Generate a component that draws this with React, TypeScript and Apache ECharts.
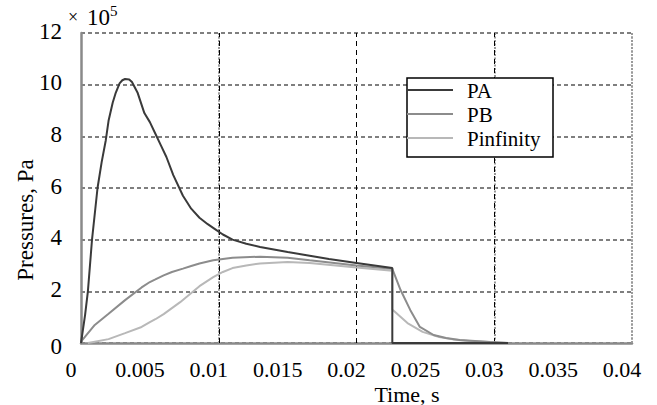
import React, { useEffect, useRef } from "react";
import * as echarts from "echarts";

// Axis ticks
const xTicks = [0, 0.005, 0.01, 0.015, 0.02, 0.025, 0.03, 0.035, 0.04];
const yTicks = [0, 2, 4, 6, 8, 10, 12];
const dottedX = [0.005, 0.015, 0.025, 0.035, 0.04];
const dashedX = [0.01, 0.02, 0.03];

// PA (x1e5 Pa)
const paTime = [0, 0.0003, 0.0005, 0.0008, 0.0012, 0.0015, 0.0018, 0.002, 0.0023, 0.0025, 0.0028, 0.003, 0.0032, 0.0035, 0.0037, 0.0041, 0.0046, 0.005, 0.0054, 0.0058, 0.0062, 0.0067, 0.0074, 0.008, 0.0086, 0.0092, 0.0097, 0.0103, 0.011, 0.012, 0.013, 0.015, 0.0166, 0.018, 0.02, 0.0226, 0.0226, 0.031];
const paValue = [0, 1.1, 2.0, 4.0, 6.0, 7.0, 7.85, 8.6, 9.3, 9.65, 10.05, 10.17, 10.22, 10.2, 10.1, 9.7, 8.9, 8.55, 8.1, 7.65, 7.2, 6.5, 5.7, 5.2, 4.85, 4.6, 4.42, 4.2, 4.0, 3.84, 3.72, 3.52, 3.38, 3.25, 3.1, 2.9, 0, 0];

// PB (x1e5 Pa)
const pbTime = [0, 0.001, 0.002, 0.0032, 0.0044, 0.005, 0.0054, 0.006, 0.0066, 0.0074, 0.008, 0.0086, 0.0096, 0.011, 0.013, 0.015, 0.0166, 0.02, 0.0226, 0.0232, 0.0239, 0.0246, 0.0256, 0.0265, 0.0275, 0.0297, 0.031];
const pbValue = [0.05, 0.7, 1.13, 1.66, 2.15, 2.36, 2.46, 2.62, 2.75, 2.88, 2.98, 3.08, 3.2, 3.3, 3.34, 3.3, 3.2, 3.0, 2.87, 2.05, 1.28, 0.62, 0.31, 0.19, 0.12, 0.04, 0];

// Pinfinity (x1e5 Pa)
const pinfTime = [0.0005, 0.001, 0.002, 0.0032, 0.0044, 0.005, 0.0054, 0.006, 0.0066, 0.0072, 0.0077, 0.0086, 0.0096, 0.0103, 0.011, 0.012, 0.013, 0.015, 0.0166, 0.02, 0.0226, 0.0226, 0.0237, 0.0248, 0.026, 0.027, 0.0282, 0.031];
const pinfValue = [0, 0.05, 0.15, 0.38, 0.62, 0.81, 0.92, 1.12, 1.35, 1.58, 1.8, 2.2, 2.55, 2.75, 2.9, 3.0, 3.08, 3.14, 3.1, 2.92, 2.8, 1.3, 0.77, 0.43, 0.23, 0.14, 0.08, 0];

const seriesNames = ["PA", "PB", "Pinfinity"];
const seriesColors = ["#3a3a3a", "#8c8c8c", "#b8b8b8"];

const pair = (t: number[], v: number[]) => t.map((x, i) => [x, v[i]]);

const FONT = "Liberation Serif";

export default function App() {
  const ref = useRef<HTMLDivElement>(null);
  useEffect(() => {
    if (!ref.current) return;
    const chart = echarts.init(ref.current, null, { renderer: "svg" });
    const gridMarks = [
      ...dottedX.map((x) => ({ xAxis: x, lineStyle: { color: "#9a9a9a", width: 2, type: [2, 1.5] } })),
      ...dashedX.map((x) => ({ xAxis: x, lineStyle: { color: "#000", width: 1, type: [5, 4] } })),
    ];
    const lineCommon = { type: "line", showSymbol: false };
    chart.setOption({
      animation: false,
      backgroundColor: "#fff",
      grid: { left: 81, top: 33, width: 551, height: 310 },
      xAxis: {
        type: "value",
        min: 0,
        max: 0.04,
        interval: 0.005,
        axisLine: { show: true, lineStyle: { color: "#8a8a8a", width: 2.5 } },
        axisTick: { show: false },
        splitLine: { show: false },
        axisLabel: { show: false },
      },
      yAxis: {
        type: "value",
        min: 0,
        max: 12,
        interval: 2,
        axisLine: { show: true, lineStyle: { color: "#8a8a8a", width: 2.5 } },
        axisTick: { show: false },
        splitLine: { show: true, lineStyle: { color: "#555", width: 1.5, type: [4, 3] } },
        axisLabel: { show: false },
      },
      series: [
        {
          name: "grid",
          type: "line",
          data: [],
          silent: true,
          z: 1,
          markLine: { silent: true, symbol: "none", label: { show: false }, z: 1, data: gridMarks },
        },
        {
          ...lineCommon,
          name: "Pinfinity",
          data: pair(pinfTime, pinfValue),
          z: 3,
          color: seriesColors[2],
          lineStyle: { width: 2, color: seriesColors[2] },
        },
        {
          ...lineCommon,
          name: "PB",
          data: pair(pbTime, pbValue),
          z: 4,
          color: seriesColors[1],
          lineStyle: { width: 2, color: seriesColors[1] },
        },
        {
          ...lineCommon,
          name: "PA",
          data: pair(paTime, paValue),
          z: 5,
          color: seriesColors[0],
          lineStyle: { width: 2, color: seriesColors[0] },
        },
      ],
    });

    // Tick labels placed through the axes' own scales
    const txt = (x: number, y: number, text: string, size: number, align: string, extra: any = {}) => ({
      type: "text",
      x,
      y,
      z: 100,
      ...extra,
      style: { text, fontFamily: FONT, fontSize: size, fill: "#000", align, verticalAlign: "middle" },
    });
    const graphics: any[] = [];
    xTicks.forEach((t) => {
      const p = chart.convertToPixel({ gridIndex: 0 }, [t, 0]) as number[];
      graphics.push(txt(p[0] - 10, p[1] + 26, String(+t.toFixed(3)), 22, "center"));
    });
    yTicks.forEach((v) => {
      const p = chart.convertToPixel({ gridIndex: 0 }, [0, v]) as number[];
      graphics.push(txt(p[0] - 19, p[1] + (v === 0 ? 3 : -2), String(v), 23, "right"));
    });
    // axis titles and exponent
    graphics.push(txt(73, 17, "×", 18, "center"));
    graphics.push(txt(87, 17, "10", 23, "left"));
    graphics.push(txt(110, 11, "5", 15, "left"));
    graphics.push(txt(25, 220, "Pressures, Pa", 23, "center", { rotation: Math.PI / 2 }));
    graphics.push(txt(407, 394, "Time, s", 22, "center"));
    // legend
    graphics.push({
      type: "rect",
      z: 99,
      shape: { x: 407, y: 78, width: 146, height: 79 },
      style: { fill: "#fff", stroke: "#000", lineWidth: 1.5 },
    });
    const rowY = [90, 114, 138];
    seriesNames.forEach((n, i) => {
      graphics.push({
        type: "line",
        z: 100,
        shape: { x1: 407, y1: rowY[i], x2: 453, y2: rowY[i] },
        style: { stroke: seriesColors[i], lineWidth: 2 },
      });
      graphics.push(txt(467, rowY[i] + 1, n, 21, "left"));
    });
    chart.setOption({ graphic: graphics });
    return () => chart.dispose();
  }, []);
  return <div ref={ref} style={{ position: "fixed", left: 0, top: 0, width: 657, height: 405 }} />;
}
